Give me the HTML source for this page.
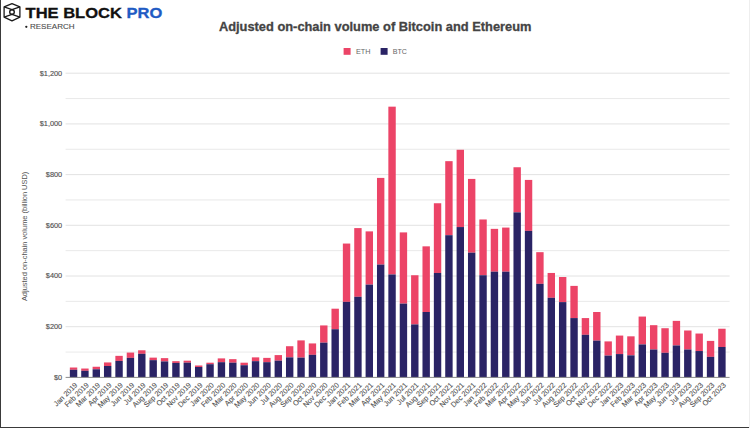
<!DOCTYPE html>
<html><head><meta charset="utf-8"><style>
html,body{margin:0;padding:0;}
body{width:750px;height:428px;position:relative;overflow:hidden;background:#fff;font-family:"Liberation Sans",sans-serif;}
.bl{position:absolute;left:0;top:0;width:1px;height:428px;background:#3a3a3a;}
.bb{position:absolute;left:0;top:426.5px;width:749px;height:1.5px;background:#3a3a3a;}
.br{position:absolute;left:749px;top:0;width:1px;height:428px;background:#eeeeee;}
</style></head><body>
<svg width="750" height="428" viewBox="0 0 750 428" style="position:absolute;left:0;top:0">
<g><line x1="65.6" x2="729.6" y1="352.05" y2="352.05" stroke="#e3e3e3" stroke-width="0.8"/><line x1="65.6" x2="729.6" y1="326.70" y2="326.70" stroke="#dadada" stroke-width="0.8"/><line x1="65.6" x2="729.6" y1="301.35" y2="301.35" stroke="#e3e3e3" stroke-width="0.8"/><line x1="65.6" x2="729.6" y1="276.00" y2="276.00" stroke="#dadada" stroke-width="0.8"/><line x1="65.6" x2="729.6" y1="250.65" y2="250.65" stroke="#e3e3e3" stroke-width="0.8"/><line x1="65.6" x2="729.6" y1="225.30" y2="225.30" stroke="#dadada" stroke-width="0.8"/><line x1="65.6" x2="729.6" y1="199.95" y2="199.95" stroke="#e3e3e3" stroke-width="0.8"/><line x1="65.6" x2="729.6" y1="174.60" y2="174.60" stroke="#dadada" stroke-width="0.8"/><line x1="65.6" x2="729.6" y1="149.25" y2="149.25" stroke="#e3e3e3" stroke-width="0.8"/><line x1="65.6" x2="729.6" y1="123.90" y2="123.90" stroke="#dadada" stroke-width="0.8"/><line x1="65.6" x2="729.6" y1="98.55" y2="98.55" stroke="#e3e3e3" stroke-width="0.8"/><line x1="65.6" x2="729.6" y1="73.20" y2="73.20" stroke="#dadada" stroke-width="0.8"/></g>
<g font-family="Liberation Sans, sans-serif" font-size="7.35" fill="#525252" stroke="#525252" stroke-width="0.15"><text x="62.2" y="379.70" text-anchor="end">$0</text><text x="62.2" y="329.00" text-anchor="end">$200</text><text x="62.2" y="278.30" text-anchor="end">$400</text><text x="62.2" y="227.60" text-anchor="end">$600</text><text x="62.2" y="176.90" text-anchor="end">$800</text><text x="62.2" y="126.20" text-anchor="end">$1,000</text><text x="62.2" y="75.50" text-anchor="end">$1,200</text></g>
<g><rect x="69.85" y="367.51" width="7.4" height="2.28" fill="#ec4467"/><rect x="69.85" y="369.79" width="7.4" height="7.61" fill="#2a2365"/><rect x="81.22" y="368.53" width="7.4" height="2.28" fill="#ec4467"/><rect x="81.22" y="370.81" width="7.4" height="6.59" fill="#2a2365"/><rect x="92.60" y="366.75" width="7.4" height="2.53" fill="#ec4467"/><rect x="92.60" y="369.29" width="7.4" height="8.11" fill="#2a2365"/><rect x="103.97" y="362.44" width="7.4" height="3.55" fill="#ec4467"/><rect x="103.97" y="365.99" width="7.4" height="11.41" fill="#2a2365"/><rect x="115.35" y="355.85" width="7.4" height="5.07" fill="#ec4467"/><rect x="115.35" y="360.92" width="7.4" height="16.48" fill="#2a2365"/><rect x="126.73" y="352.56" width="7.4" height="5.32" fill="#ec4467"/><rect x="126.73" y="357.88" width="7.4" height="19.52" fill="#2a2365"/><rect x="138.10" y="350.28" width="7.4" height="3.55" fill="#ec4467"/><rect x="138.10" y="353.82" width="7.4" height="23.58" fill="#2a2365"/><rect x="149.48" y="357.63" width="7.4" height="2.54" fill="#ec4467"/><rect x="149.48" y="360.16" width="7.4" height="17.24" fill="#2a2365"/><rect x="160.85" y="358.13" width="7.4" height="3.30" fill="#ec4467"/><rect x="160.85" y="361.43" width="7.4" height="15.97" fill="#2a2365"/><rect x="172.23" y="361.18" width="7.4" height="1.77" fill="#ec4467"/><rect x="172.23" y="362.95" width="7.4" height="14.45" fill="#2a2365"/><rect x="183.60" y="360.67" width="7.4" height="2.03" fill="#ec4467"/><rect x="183.60" y="362.70" width="7.4" height="14.70" fill="#2a2365"/><rect x="194.98" y="365.49" width="7.4" height="1.52" fill="#ec4467"/><rect x="194.98" y="367.01" width="7.4" height="10.39" fill="#2a2365"/><rect x="206.35" y="362.70" width="7.4" height="1.52" fill="#ec4467"/><rect x="206.35" y="364.22" width="7.4" height="13.18" fill="#2a2365"/><rect x="217.73" y="358.39" width="7.4" height="3.80" fill="#ec4467"/><rect x="217.73" y="362.19" width="7.4" height="15.21" fill="#2a2365"/><rect x="229.10" y="359.15" width="7.4" height="3.55" fill="#ec4467"/><rect x="229.10" y="362.70" width="7.4" height="14.70" fill="#2a2365"/><rect x="240.48" y="362.70" width="7.4" height="2.53" fill="#ec4467"/><rect x="240.48" y="365.23" width="7.4" height="12.17" fill="#2a2365"/><rect x="251.85" y="357.37" width="7.4" height="3.80" fill="#ec4467"/><rect x="251.85" y="361.18" width="7.4" height="16.22" fill="#2a2365"/><rect x="263.23" y="357.88" width="7.4" height="4.31" fill="#ec4467"/><rect x="263.23" y="362.19" width="7.4" height="15.21" fill="#2a2365"/><rect x="274.60" y="355.09" width="7.4" height="5.58" fill="#ec4467"/><rect x="274.60" y="360.67" width="7.4" height="16.73" fill="#2a2365"/><rect x="285.98" y="346.22" width="7.4" height="11.15" fill="#ec4467"/><rect x="285.98" y="357.37" width="7.4" height="20.03" fill="#2a2365"/><rect x="297.35" y="340.39" width="7.4" height="17.24" fill="#ec4467"/><rect x="297.35" y="357.63" width="7.4" height="19.77" fill="#2a2365"/><rect x="308.73" y="343.43" width="7.4" height="11.41" fill="#ec4467"/><rect x="308.73" y="354.84" width="7.4" height="22.56" fill="#2a2365"/><rect x="320.10" y="325.43" width="7.4" height="17.24" fill="#ec4467"/><rect x="320.10" y="342.67" width="7.4" height="34.73" fill="#2a2365"/><rect x="331.48" y="308.70" width="7.4" height="20.53" fill="#ec4467"/><rect x="331.48" y="329.23" width="7.4" height="48.17" fill="#2a2365"/><rect x="342.85" y="243.55" width="7.4" height="58.31" fill="#ec4467"/><rect x="342.85" y="301.86" width="7.4" height="75.54" fill="#2a2365"/><rect x="354.23" y="228.09" width="7.4" height="68.70" fill="#ec4467"/><rect x="354.23" y="296.79" width="7.4" height="80.61" fill="#2a2365"/><rect x="365.60" y="231.38" width="7.4" height="53.23" fill="#ec4467"/><rect x="365.60" y="284.62" width="7.4" height="92.78" fill="#2a2365"/><rect x="376.98" y="177.90" width="7.4" height="86.70" fill="#ec4467"/><rect x="376.98" y="264.59" width="7.4" height="112.81" fill="#2a2365"/><rect x="388.35" y="106.66" width="7.4" height="167.82" fill="#ec4467"/><rect x="388.35" y="274.48" width="7.4" height="102.92" fill="#2a2365"/><rect x="399.73" y="232.40" width="7.4" height="71.23" fill="#ec4467"/><rect x="399.73" y="303.63" width="7.4" height="73.77" fill="#2a2365"/><rect x="411.10" y="275.24" width="7.4" height="49.18" fill="#ec4467"/><rect x="411.10" y="324.42" width="7.4" height="52.98" fill="#2a2365"/><rect x="422.48" y="246.34" width="7.4" height="65.66" fill="#ec4467"/><rect x="422.48" y="312.00" width="7.4" height="65.40" fill="#2a2365"/><rect x="433.85" y="203.25" width="7.4" height="69.71" fill="#ec4467"/><rect x="433.85" y="272.96" width="7.4" height="104.44" fill="#2a2365"/><rect x="445.23" y="161.16" width="7.4" height="74.02" fill="#ec4467"/><rect x="445.23" y="235.19" width="7.4" height="142.21" fill="#2a2365"/><rect x="456.60" y="149.76" width="7.4" height="77.32" fill="#ec4467"/><rect x="456.60" y="227.07" width="7.4" height="150.33" fill="#2a2365"/><rect x="467.98" y="178.91" width="7.4" height="73.77" fill="#ec4467"/><rect x="467.98" y="252.68" width="7.4" height="124.72" fill="#2a2365"/><rect x="479.35" y="219.47" width="7.4" height="55.77" fill="#ec4467"/><rect x="479.35" y="275.24" width="7.4" height="102.16" fill="#2a2365"/><rect x="490.73" y="228.85" width="7.4" height="42.84" fill="#ec4467"/><rect x="490.73" y="271.69" width="7.4" height="105.71" fill="#2a2365"/><rect x="502.10" y="227.58" width="7.4" height="44.11" fill="#ec4467"/><rect x="502.10" y="271.69" width="7.4" height="105.71" fill="#2a2365"/><rect x="513.47" y="167.25" width="7.4" height="45.12" fill="#ec4467"/><rect x="513.47" y="212.37" width="7.4" height="165.03" fill="#2a2365"/><rect x="524.85" y="179.92" width="7.4" height="50.95" fill="#ec4467"/><rect x="524.85" y="230.88" width="7.4" height="146.52" fill="#2a2365"/><rect x="536.22" y="252.17" width="7.4" height="31.69" fill="#ec4467"/><rect x="536.22" y="283.86" width="7.4" height="93.54" fill="#2a2365"/><rect x="547.60" y="272.96" width="7.4" height="24.84" fill="#ec4467"/><rect x="547.60" y="297.80" width="7.4" height="79.60" fill="#2a2365"/><rect x="558.97" y="277.01" width="7.4" height="25.10" fill="#ec4467"/><rect x="558.97" y="302.11" width="7.4" height="75.29" fill="#2a2365"/><rect x="570.35" y="285.89" width="7.4" height="32.19" fill="#ec4467"/><rect x="570.35" y="318.08" width="7.4" height="59.32" fill="#2a2365"/><rect x="581.72" y="318.08" width="7.4" height="16.73" fill="#ec4467"/><rect x="581.72" y="334.81" width="7.4" height="42.59" fill="#2a2365"/><rect x="593.10" y="312.00" width="7.4" height="28.65" fill="#ec4467"/><rect x="593.10" y="340.64" width="7.4" height="36.76" fill="#2a2365"/><rect x="604.47" y="341.40" width="7.4" height="14.20" fill="#ec4467"/><rect x="604.47" y="355.60" width="7.4" height="21.80" fill="#2a2365"/><rect x="615.85" y="335.57" width="7.4" height="18.51" fill="#ec4467"/><rect x="615.85" y="354.08" width="7.4" height="23.32" fill="#2a2365"/><rect x="627.22" y="336.33" width="7.4" height="19.01" fill="#ec4467"/><rect x="627.22" y="355.35" width="7.4" height="22.05" fill="#2a2365"/><rect x="638.60" y="316.56" width="7.4" height="27.89" fill="#ec4467"/><rect x="638.60" y="344.44" width="7.4" height="32.95" fill="#2a2365"/><rect x="649.97" y="325.18" width="7.4" height="24.34" fill="#ec4467"/><rect x="649.97" y="349.51" width="7.4" height="27.88" fill="#2a2365"/><rect x="661.35" y="328.22" width="7.4" height="24.59" fill="#ec4467"/><rect x="661.35" y="352.81" width="7.4" height="24.59" fill="#2a2365"/><rect x="672.72" y="320.87" width="7.4" height="24.59" fill="#ec4467"/><rect x="672.72" y="345.46" width="7.4" height="31.94" fill="#2a2365"/><rect x="684.10" y="330.50" width="7.4" height="19.01" fill="#ec4467"/><rect x="684.10" y="349.51" width="7.4" height="27.88" fill="#2a2365"/><rect x="695.47" y="333.54" width="7.4" height="17.49" fill="#ec4467"/><rect x="695.47" y="351.04" width="7.4" height="26.36" fill="#2a2365"/><rect x="706.85" y="340.90" width="7.4" height="15.97" fill="#ec4467"/><rect x="706.85" y="356.87" width="7.4" height="20.53" fill="#2a2365"/><rect x="718.22" y="328.73" width="7.4" height="18.25" fill="#ec4467"/><rect x="718.22" y="346.98" width="7.4" height="30.42" fill="#2a2365"/></g>
<line x1="65.6" x2="729.6" y1="377.40" y2="377.40" stroke="#8a8a8a" stroke-width="1"/>
<g font-family="Liberation Sans, sans-serif" font-size="7.35" fill="#525252" stroke="#525252" stroke-width="0.1"><text transform="translate(77.95,385.50) rotate(-45)" text-anchor="end">Jan 2019</text><text transform="translate(89.33,385.50) rotate(-45)" text-anchor="end">Feb 2019</text><text transform="translate(100.70,385.50) rotate(-45)" text-anchor="end">Mar 2019</text><text transform="translate(112.08,385.50) rotate(-45)" text-anchor="end">Apr 2019</text><text transform="translate(123.45,385.50) rotate(-45)" text-anchor="end">May 2019</text><text transform="translate(134.83,385.50) rotate(-45)" text-anchor="end">Jun 2019</text><text transform="translate(146.20,385.50) rotate(-45)" text-anchor="end">Jul 2019</text><text transform="translate(157.58,385.50) rotate(-45)" text-anchor="end">Aug 2019</text><text transform="translate(168.95,385.50) rotate(-45)" text-anchor="end">Sep 2019</text><text transform="translate(180.33,385.50) rotate(-45)" text-anchor="end">Oct 2019</text><text transform="translate(191.70,385.50) rotate(-45)" text-anchor="end">Nov 2019</text><text transform="translate(203.08,385.50) rotate(-45)" text-anchor="end">Dec 2019</text><text transform="translate(214.45,385.50) rotate(-45)" text-anchor="end">Jan 2020</text><text transform="translate(225.83,385.50) rotate(-45)" text-anchor="end">Feb 2020</text><text transform="translate(237.20,385.50) rotate(-45)" text-anchor="end">Mar 2020</text><text transform="translate(248.58,385.50) rotate(-45)" text-anchor="end">Apr 2020</text><text transform="translate(259.95,385.50) rotate(-45)" text-anchor="end">May 2020</text><text transform="translate(271.32,385.50) rotate(-45)" text-anchor="end">Jun 2020</text><text transform="translate(282.70,385.50) rotate(-45)" text-anchor="end">Jul 2020</text><text transform="translate(294.07,385.50) rotate(-45)" text-anchor="end">Aug 2020</text><text transform="translate(305.45,385.50) rotate(-45)" text-anchor="end">Sep 2020</text><text transform="translate(316.82,385.50) rotate(-45)" text-anchor="end">Oct 2020</text><text transform="translate(328.20,385.50) rotate(-45)" text-anchor="end">Nov 2020</text><text transform="translate(339.57,385.50) rotate(-45)" text-anchor="end">Dec 2020</text><text transform="translate(350.95,385.50) rotate(-45)" text-anchor="end">Jan 2021</text><text transform="translate(362.32,385.50) rotate(-45)" text-anchor="end">Feb 2021</text><text transform="translate(373.70,385.50) rotate(-45)" text-anchor="end">Mar 2021</text><text transform="translate(385.07,385.50) rotate(-45)" text-anchor="end">Apr 2021</text><text transform="translate(396.45,385.50) rotate(-45)" text-anchor="end">May 2021</text><text transform="translate(407.82,385.50) rotate(-45)" text-anchor="end">Jun 2021</text><text transform="translate(419.20,385.50) rotate(-45)" text-anchor="end">Jul 2021</text><text transform="translate(430.57,385.50) rotate(-45)" text-anchor="end">Aug 2021</text><text transform="translate(441.95,385.50) rotate(-45)" text-anchor="end">Sep 2021</text><text transform="translate(453.32,385.50) rotate(-45)" text-anchor="end">Oct 2021</text><text transform="translate(464.70,385.50) rotate(-45)" text-anchor="end">Nov 2021</text><text transform="translate(476.07,385.50) rotate(-45)" text-anchor="end">Dec 2021</text><text transform="translate(487.45,385.50) rotate(-45)" text-anchor="end">Jan 2022</text><text transform="translate(498.82,385.50) rotate(-45)" text-anchor="end">Feb 2022</text><text transform="translate(510.20,385.50) rotate(-45)" text-anchor="end">Mar 2022</text><text transform="translate(521.57,385.50) rotate(-45)" text-anchor="end">Apr 2022</text><text transform="translate(532.95,385.50) rotate(-45)" text-anchor="end">May 2022</text><text transform="translate(544.32,385.50) rotate(-45)" text-anchor="end">Jun 2022</text><text transform="translate(555.70,385.50) rotate(-45)" text-anchor="end">Jul 2022</text><text transform="translate(567.07,385.50) rotate(-45)" text-anchor="end">Aug 2022</text><text transform="translate(578.45,385.50) rotate(-45)" text-anchor="end">Sep 2022</text><text transform="translate(589.82,385.50) rotate(-45)" text-anchor="end">Oct 2022</text><text transform="translate(601.20,385.50) rotate(-45)" text-anchor="end">Nov 2022</text><text transform="translate(612.57,385.50) rotate(-45)" text-anchor="end">Dec 2022</text><text transform="translate(623.95,385.50) rotate(-45)" text-anchor="end">Jan 2023</text><text transform="translate(635.32,385.50) rotate(-45)" text-anchor="end">Feb 2023</text><text transform="translate(646.70,385.50) rotate(-45)" text-anchor="end">Mar 2023</text><text transform="translate(658.07,385.50) rotate(-45)" text-anchor="end">Apr 2023</text><text transform="translate(669.45,385.50) rotate(-45)" text-anchor="end">May 2023</text><text transform="translate(680.82,385.50) rotate(-45)" text-anchor="end">Jun 2023</text><text transform="translate(692.20,385.50) rotate(-45)" text-anchor="end">Jul 2023</text><text transform="translate(703.57,385.50) rotate(-45)" text-anchor="end">Aug 2023</text><text transform="translate(714.95,385.50) rotate(-45)" text-anchor="end">Sep 2023</text><text transform="translate(726.32,385.50) rotate(-45)" text-anchor="end">Oct 2023</text></g>
<text transform="translate(27.3,236.4) rotate(-90)" text-anchor="middle" font-family="Liberation Sans, sans-serif" font-size="7.45" fill="#525252">Adjusted on-chain volume (billion USD)</text>
<text x="375.2" y="30.9" text-anchor="middle" font-family="Liberation Sans, sans-serif" font-weight="bold" font-size="12.85" fill="#444" stroke="#444" stroke-width="0.3">Adjusted on-chain volume of Bitcoin and Ethereum</text>
<rect x="343.6" y="48" width="7" height="6.8" fill="#ec4467"/>
<text x="356" y="53.9" font-family="Liberation Sans, sans-serif" font-size="7.25" fill="#666">ETH</text>
<rect x="380.6" y="48" width="7" height="6.8" fill="#2a2365"/>
<text x="392.8" y="53.9" font-family="Liberation Sans, sans-serif" font-size="7.1" fill="#666">BTC</text>
<!-- logo -->
<g fill="none" stroke="#1a1a1a" stroke-width="1.3" stroke-linejoin="round">
<polygon points="12,3.7 19.9,6.9 19.9,17.2 12,20.9 4.1,17.2 4.1,6.9"/>
<polyline points="4.1,6.9 12,9.6 19.9,6.9"/>
<polyline points="4.1,17.2 12,14.4 19.9,17.2"/>
<circle cx="12" cy="12" r="2.3" stroke-width="1.4"/>
</g>
<text transform="translate(25.6,17.5) scale(1.08,1)" font-family="Liberation Sans, sans-serif" font-weight="bold" font-size="15.3" fill="#111" stroke="#111" stroke-width="0.3">THE BLOCK <tspan fill="#1f5bc4" stroke="#1f5bc4">PRO</tspan></text>
<circle cx="26.3" cy="26.8" r="1.15" fill="#222"/>
<text x="29.9" y="29.4" font-family="Liberation Sans, sans-serif" font-size="8.05" fill="#4a4a4a" stroke="#4a4a4a" stroke-width="0.1">RESEARCH</text>
</svg>
<div class="bl"></div><div class="bb"></div><div class="br"></div>
</body></html>
